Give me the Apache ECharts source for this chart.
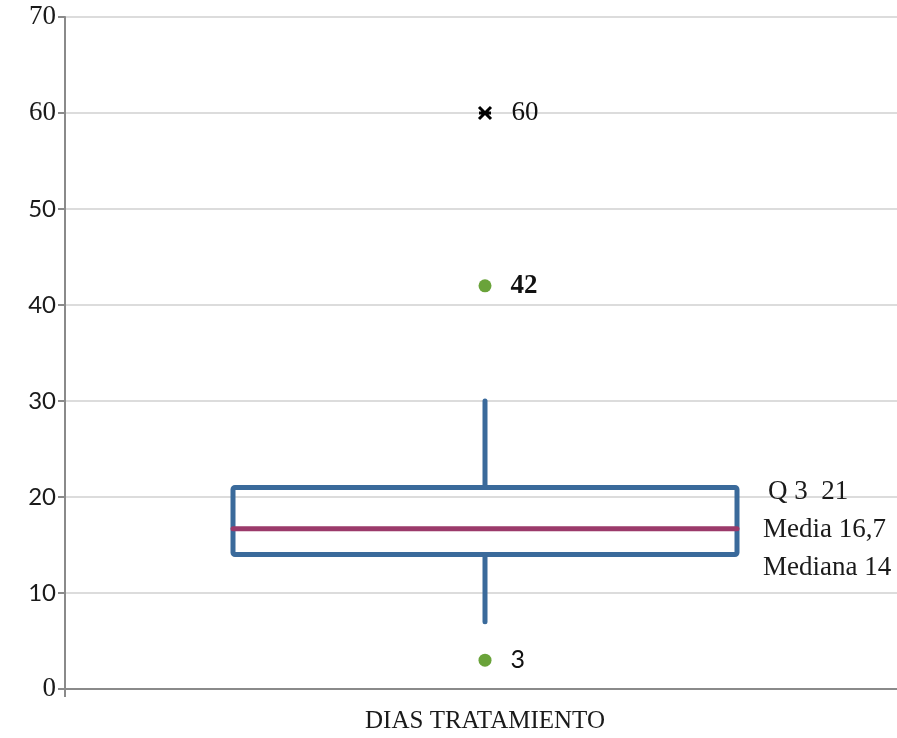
<!DOCTYPE html>
<html><head><meta charset="utf-8">
<script src="https://cdn.jsdelivr.net/npm/echarts@6/dist/echarts.min.js"></script>
<style>html,body{margin:0;padding:0;background:#fff}#c{width:897px;height:738px}</style>
</head><body><div id="c"></div>
<script>
var categories = ['DIAS TRATAMIENTO'];
var boxQ1 = [14];
var boxQ3 = [21];
var boxMean = [16.7];
var whiskerLow = [7];
var whiskerHigh = [30];
var outlierDots = [42, 3];
var outlierStar = [60];
var annotations = ['Q 3  21', 'Media 16,7', 'Mediana 14'];
var yTicks = [0, 10, 20, 30, 40, 50, 60, 70];
var serifTicks = [0, 60, 70];

var SERIF = 'Liberation Serif';
var SANS = 'Lato';
var BLUE = '#3A6A9B';
var PURPLE = '#9B3A6A';
var GREEN = '#6AA33A';

var chart = echarts.init(document.getElementById('c'));
chart.setOption({
  animation: false,
  backgroundColor: '#fff',
  grid: { left: 65, width: 840, top: 17, bottom: 49, containLabel: false, outerBoundsMode: 'none' },
  xAxis: {
    type: 'category',
    data: categories,
    axisLine: { show: true, lineStyle: { color: '#8a8a8a', width: 2 } },
    axisTick: { show: true, length: 8, lineStyle: { color: '#8a8a8a', width: 2 } },
    axisLabel: { fontFamily: SERIF, fontSize: 25, color: '#1a1a1a', margin: 20 }
  },
  yAxis: {
    type: 'value', min: 0, max: 70, interval: 10,
    axisLine: { show: true, lineStyle: { color: '#8a8a8a', width: 2 } },
    axisTick: { show: true, length: 7, lineStyle: { color: '#8a8a8a', width: 2 } },
    splitLine: { show: true, lineStyle: { color: '#dcdcdc', width: 2 } },
    axisLabel: { show: false }
  },
  series: [
    {
      type: 'custom',
      data: yTicks.map(function (v) { return [0, v]; }),
      encode: { x: 0, y: 1 },
      clip: false,
      silent: true,
      renderItem: function (params, api) {
        var v = Number(api.value(1));
        var p = api.coord([0, v]);
        var serif = serifTicks.indexOf(v) >= 0;
        return {
          type: 'text',
          x: params.coordSys.x - 9,
          y: p[1],
          style: {
            text: String(v),
            font: serif ? '27px "Liberation Serif"' : '24px Lato',
            fill: '#1a1a1a',
            align: 'right',
            verticalAlign: 'middle'
          }
        };
      }
    },
    {
      type: 'custom',
      data: categories.map(function (c, i) {
        return [i, boxQ1[i], boxQ3[i], boxMean[i], whiskerLow[i], whiskerHigh[i]];
      }),
      encode: { x: 0, y: [1, 2, 3, 4, 5] },
      clip: false,
      renderItem: function (params, api) {
        var i = api.value(0);
        var bw = api.size([1, 0])[0];
        var half = bw * 0.3;
        var pQ1 = api.coord([i, api.value(1)]);
        var pQ3 = api.coord([i, api.value(2)]);
        var pMean = api.coord([i, api.value(3)]);
        var pLo = api.coord([i, api.value(4)]);
        var pHi = api.coord([i, api.value(5)]);
        var cx = pQ1[0];
        var left = cx - half, right = cx + half;
        var ls = { stroke: BLUE, lineWidth: 5, lineCap: 'round', lineJoin: 'round', fill: null };
        var tx = right + 26;
        var tstyle = { font: '27px "Liberation Serif"', fill: '#1a1a1a', verticalAlign: 'middle' };
        return {
          type: 'group',
          children: [
            { type: 'line', shape: { x1: cx, y1: pQ3[1], x2: cx, y2: pHi[1] }, style: ls },
            { type: 'line', shape: { x1: cx, y1: pQ1[1], x2: cx, y2: pLo[1] }, style: ls },
            { type: 'rect', shape: { x: left, y: pQ3[1], width: right - left, height: pQ1[1] - pQ3[1], r: 2 }, style: ls },
            { type: 'line', shape: { x1: left, y1: pMean[1], x2: right, y2: pMean[1] },
              style: { stroke: PURPLE, lineWidth: 5, lineCap: 'round' } },
            { type: 'text', x: tx + 5, y: pQ3[1] + 5, style: Object.assign({ text: annotations[0] }, tstyle) },
            { type: 'text', x: tx, y: pMean[1] + 1, style: Object.assign({ text: annotations[1] }, tstyle) },
            { type: 'text', x: tx, y: pQ1[1] + 13, style: Object.assign({ text: annotations[2] }, tstyle) }
          ]
        };
      },
      z: 3
    },
    {
      type: 'scatter',
      data: outlierDots.map(function (v) { return [0, v]; }),
      symbol: 'circle', symbolSize: 13,
      itemStyle: { color: GREEN, opacity: 1 },
      label: {
        show: true, position: 'right', distance: 19, color: '#111',
        formatter: function (p) { return p.value[1] === 42 ? '{b|' + p.value[1] + '}' : '{n|' + p.value[1] + '}'; },
        rich: {
          b: { fontFamily: SERIF, fontSize: 27, fontWeight: 'bold', color: '#111' },
          n: { fontFamily: SANS, fontSize: 25, color: '#111' }
        }
      },
      z: 4
    },
    {
      type: 'scatter',
      data: outlierStar.map(function (v) { return [0, v]; }),
      symbol: 'path://M0,0L10,10M10,0L0,10M0,5L10,5',
      symbolSize: 12,
      itemStyle: { color: 'rgba(0,0,0,0)', borderColor: '#000', borderWidth: 3, opacity: 1 },
      label: {
        show: true, position: 'right', distance: 19,
        fontFamily: SERIF, fontSize: 27, color: '#111'
      },
      z: 4
    }
  ]
});
</script>
</body></html>
